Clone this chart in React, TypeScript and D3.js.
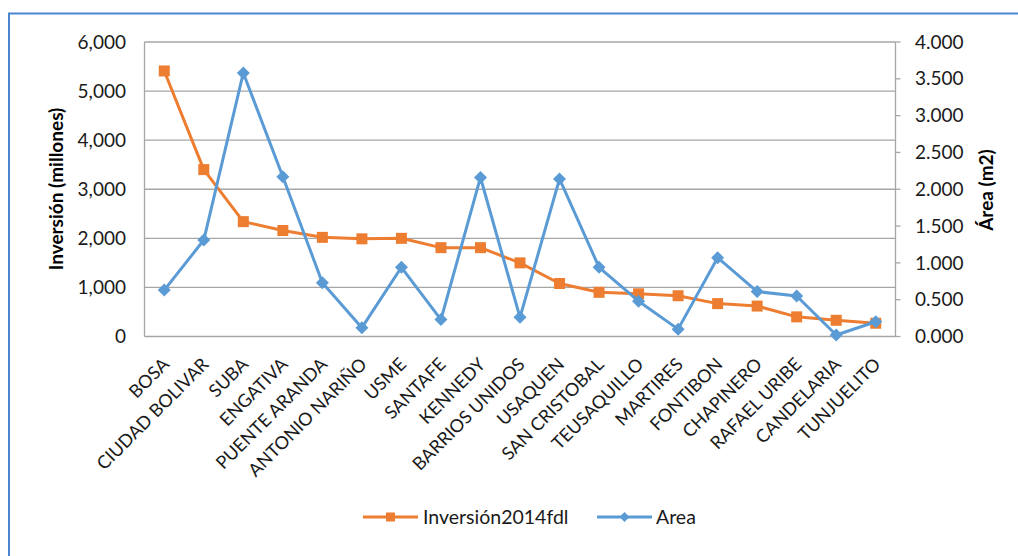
import React from "react";
import * as d3 from "d3";

const localidades = [
  "BOSA", "CIUDAD BOLIVAR", "SUBA", "ENGATIVA", "PUENTE ARANDA", "ANTONIO NARIÑO",
  "USME", "SANTAFE", "KENNEDY", "BARRIOS UNIDOS", "USAQUEN", "SAN CRISTOBAL",
  "TEUSAQUILLO", "MARTIRES", "FONTIBON", "CHAPINERO", "RAFAEL URIBE", "CANDELARIA", "TUNJUELITO",
];

// Inversión 2014 FDL (millones de pesos)
const inversion = [5410, 3400, 2340, 2160, 2020, 1990, 2000, 1810, 1810, 1500, 1080, 900, 870, 830, 670, 620, 400, 330, 270];

// Área intervenida (m2)
const area = [630, 1310, 3580, 2170, 730, 120, 940, 230, 2160, 260, 2140, 940, 480, 100, 1070, 610, 550, 20, 200];

const leftTicks = [0, 1000, 2000, 3000, 4000, 5000, 6000];
const rightTicks = [0, 500, 1000, 1500, 2000, 2500, 3000, 3500, 4000];

const ORANGE = "#ED7D31";
const BLUE = "#5B9BD5";
const GRID = "#A6A6A6";
const FONT = "Lato, 'Open Sans', sans-serif";

export default function App() {
  const W = 1018;
  const H = 556;
  const plot = { left: 144.5, right: 895.5, top: 42, bottom: 336.5 };

  const x = d3.scaleBand<string>().domain(localidades).range([plot.left, plot.right]);
  const cx = (d: string) => (x(d) ?? 0) + x.bandwidth() / 2;
  const yL = d3.scaleLinear().domain([0, 6000]).range([plot.bottom, plot.top]);
  const yR = d3.scaleLinear().domain([0, 4000]).range([plot.bottom, plot.top]);

  const fmtL = d3.format(",");
  const fmtR = (v: number) => d3.format(".3f")(v / 1000);

  const lineInv = d3
    .line<number>()
    .x((_, i) => cx(localidades[i]))
    .y((v) => yL(v));
  const lineArea = d3
    .line<number>()
    .x((_, i) => cx(localidades[i]))
    .y((v) => yR(v));

  const sq = 11;
  const dm = 6.5;
  const diamond = (px: number, py: number) =>
    `M${px},${py - dm}L${px + dm},${py}L${px},${py + dm}L${px - dm},${py}Z`;

  return (
    <svg
      width={W}
      height={H}
      style={{ position: "absolute", left: 0, top: 0, background: "#fff" }}
      fontFamily={FONT}
    >
      <rect x={0} y={0} width={W} height={H} fill="#fff" />
      {/* chart frame */}
      <path d={`M9,${H + 2}V13.5H${W + 2}`} fill="none" stroke="#4A86D0" strokeWidth={2} />

      {/* horizontal gridlines */}
      {leftTicks.map((t) => (
        <line key={t} x1={plot.left} x2={plot.right} y1={yL(t)} y2={yL(t)} stroke={GRID} strokeWidth={1.3} />
      ))}
      {/* axis lines */}
      <line x1={plot.left} x2={plot.left} y1={plot.top} y2={plot.bottom} stroke={GRID} strokeWidth={1.3} />
      <line x1={plot.right} x2={plot.right} y1={plot.top} y2={plot.bottom} stroke={GRID} strokeWidth={1.3} />
      {rightTicks.map((t) => (
        <line key={t} x1={plot.right} x2={plot.right + 5} y1={yR(t)} y2={yR(t)} stroke={GRID} strokeWidth={1.3} />
      ))}

      {/* left ticks */}
      {leftTicks.map((t) => (
        <text key={t} x={126} y={yL(t)} dy="0.35em" textAnchor="end" fontSize={19} fill="#1a1a1a">
          {fmtL(t)}
        </text>
      ))}
      {/* right ticks */}
      {rightTicks.map((t) => (
        <text key={t} x={915} y={yR(t)} dy="0.35em" textAnchor="start" fontSize={19} fill="#1a1a1a">
          {fmtR(t)}
        </text>
      ))}

      {/* axis titles */}
      <text
        transform={`translate(63,189) rotate(-90)`}
        textAnchor="middle"
        fontSize={19}
        fontWeight="bold"
        fill="#000"
      >
        Inversión (millones)
      </text>
      <text
        transform={`translate(993,190) rotate(-90)`}
        textAnchor="middle"
        fontSize={19}
        fontWeight="bold"
        fill="#000"
      >
        Área (m2)
      </text>

      {/* category labels */}
      {localidades.map((d) => (
        <text
          key={d}
          transform={`translate(${cx(d) + 6},${plot.bottom + 29}) rotate(-45)`}
          textAnchor="end"
          fontSize={18}
          fill="#1a1a1a"
        >
          {d}
        </text>
      ))}

      {/* series: Inversión */}
      <path d={lineInv(inversion) ?? ""} fill="none" stroke={ORANGE} strokeWidth={3} strokeLinejoin="round" />
      {inversion.map((v, i) => (
        <rect
          key={i}
          x={cx(localidades[i]) - sq / 2}
          y={yL(v) - sq / 2}
          width={sq}
          height={sq}
          fill={ORANGE}
        />
      ))}

      {/* series: Area */}
      <path d={lineArea(area) ?? ""} fill="none" stroke={BLUE} strokeWidth={3} strokeLinejoin="round" />
      {area.map((v, i) => (
        <path key={i} d={diamond(cx(localidades[i]), yR(v))} fill={BLUE} />
      ))}

      {/* legend */}
      <g transform="translate(0,517)">
        <line x1={363} x2={418} y1={0} y2={0} stroke={ORANGE} strokeWidth={3} />
        <rect x={390.5 - 4.5} y={-4.5} width={9} height={9} fill={ORANGE} />
        <text x={423} y={0} dy="0.35em" fontSize={19.5} fill="#1a1a1a">
          Inversión2014fdl
        </text>
        <line x1={597} x2={652} y1={0} y2={0} stroke={BLUE} strokeWidth={3} />
        <path d={`M624.5,-5L629.5,0L624.5,5L619.5,0Z`} fill={BLUE} />
        <text x={656} y={0} dy="0.35em" fontSize={19.5} fill="#1a1a1a">
          Area
        </text>
      </g>
    </svg>
  );
}
